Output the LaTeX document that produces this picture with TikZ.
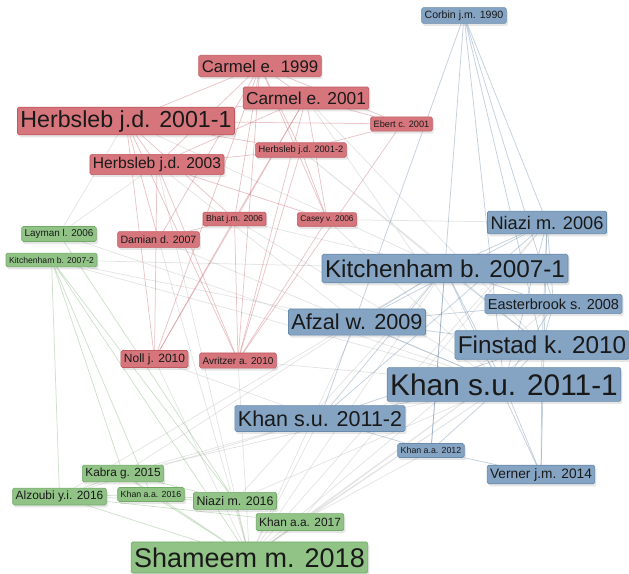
\documentclass[tikz,border=0pt]{standalone}
\usepackage{fontspec}
\setmainfont{Liberation Sans}
\usetikzlibrary{shadows,backgrounds}

\definecolor{redF}{RGB}{214,118,124}
\definecolor{redD}{RGB}{192,88,96}
\definecolor{blueF}{RGB}{133,164,195}
\definecolor{blueD}{RGB}{104,138,172}
\definecolor{greenF}{RGB}{145,195,135}
\definecolor{greenD}{RGB}{114,170,104}

\begin{document}
\begin{tikzpicture}[
  x=1pt, y=-1pt,
  box/.style={draw, rounded corners=1.5pt, line width=0.6pt, text=black!90,
    inner xsep=3pt, inner ysep=0pt,
    drop shadow={shadow xshift=1.5pt, shadow yshift=-2.5pt, opacity=0.2}},
  fs/.style={font=\fontsize{#1}{#1}\selectfont, minimum height={0.94*#1pt+5.7pt}},
  redbox/.style={box, fill=redF, draw=redD},
  bluebox/.style={box, fill=blueF, draw=blueD},
  greenbox/.style={box, fill=greenF, draw=greenD},
  redE/.style={draw=redD, draw opacity=0.35, line width=0.75pt},
  blueE/.style={draw=blueD, draw opacity=0.4, line width=0.75pt},
  greenE/.style={draw=greenD, draw opacity=0.35, line width=0.75pt},
  crossE/.style={draw=black!30, draw opacity=0.35, line width=0.75pt}
]
\useasboundingbox (0,0) rectangle (629,573);

\node[bluebox, fs=10.6] (corbin90) at (464,15.5) {Corbin j.m. 1990};

\node[redbox, fs=16.8] (carmel99) at (260,66) {Carmel e. 1999};
\node[redbox, fs=17.3] (carmel01) at (306,98) {Carmel e. 2001};
\node[redbox, fs=23.2] (herbsleb01a) at (126,121) {Herbsleb j.d. 2001-1};
\node[redbox, fs=9.2] (ebert01) at (401.5,124) {Ebert c. 2001};
\node[redbox, fs=9.3] (herbsleb01b) at (301,150) {Herbsleb j.d. 2001-2};
\node[redbox, fs=15.6] (herbsleb03) at (157,164.5) {Herbsleb j.d. 2003};
\node[redbox, fs=8.7] (bhat06) at (234.5,219) {Bhat j.m. 2006};
\node[redbox, fs=8.3] (casey06) at (327,219.5) {Casey v. 2006};
\node[redbox, fs=10.6] (damian07) at (158.5,239.5) {Damian d. 2007};
\node[redbox, fs=12] (noll10) at (154.5,359) {Noll j. 2010};
\node[redbox, fs=10] (avritzer10) at (238,360.5) {Avritzer a. 2010};

\node[greenbox, fs=9.9] (layman06) at (59,234) {Layman l. 2006};
\node[greenbox, fs=8.6] (kitch07b) at (51.5,260) {Kitchenham b. 2007-2};
\node[greenbox, fs=11.8] (kabra15) at (123,473.5) {Kabra g. 2015};
\node[greenbox, fs=11.9] (alzoubi16) at (59.5,496.5) {Alzoubi y.i. 2016};
\node[greenbox, fs=8.8] (khanaa16) at (151,494.5) {Khan a.a. 2016};
\node[greenbox, fs=12.4] (niazi16) at (235,501) {Niazi m. 2016};
\node[greenbox, fs=11.9] (khanaa17) at (300,522) {Khan a.a. 2017};
\node[greenbox, fs=27] (shameem18) at (249.5,557.5) {Shameem m. 2018};

\node[bluebox, fs=18.2] (niazi06) at (547,222.5) {Niazi m. 2006};
\node[bluebox, fs=24.3] (kitch07a) at (445,268.5) {Kitchenham b. 2007-1};
\node[bluebox, fs=14.5] (easter08) at (553.5,304) {Easterbrook s. 2008};
\node[bluebox, fs=21.7] (afzal09) at (357,322) {Afzal w. 2009};
\node[bluebox, fs=24.3] (finstad10) at (542,345) {Finstad k. 2010};
\node[bluebox, fs=29.8] (khansu11a) at (504,384.5) {Khan s.u. 2011-1};
\node[bluebox, fs=21.5] (khansu11b) at (320,418.5) {Khan s.u. 2011-2};
\node[bluebox, fs=8.8] (khanaa12) at (431,450.5) {Khan a.a. 2012};
\node[bluebox, fs=13.7] (verner14) at (541,474.5) {Verner j.m. 2014};

\begin{scope}[on background layer]
% links between clusters
\draw[crossE] (layman06) -- (herbsleb01a) (layman06) -- (herbsleb03) (layman06) -- (khansu11a);
\draw[crossE] (kitch07b) -- (kitch07a) (kitch07b) -- (afzal09) (kitch07b) -- (khansu11a);
\draw[crossE] (herbsleb01a) -- (kitch07a) (herbsleb03) -- (afzal09) (herbsleb03) -- (shameem18);
\draw[crossE] (damian07) -- (khansu11a) (damian07) -- (shameem18) (noll10) -- (shameem18) (noll10) -- (khansu11b);
\draw[crossE] (bhat06) -- (kitch07a) (bhat06) -- (khansu11a) (casey06) -- (khansu11a) (casey06) -- (niazi06);
\draw[crossE] (carmel01) -- (finstad10) (carmel01) -- (khansu11a) (herbsleb01b) -- (finstad10) (herbsleb01b) -- (kitch07a);
\draw[crossE] (avritzer10) -- (khansu11a) (avritzer10) -- (shameem18);
\draw[crossE] (afzal09) -- (kabra15) (afzal09) -- (shameem18) (kitch07a) -- (shameem18) (kitch07a) -- (niazi16) (kitch07a) -- (alzoubi16);
\draw[crossE] (niazi06) -- (shameem18) (niazi06) -- (khanaa17) (finstad10) -- (shameem18) (finstad10) -- (khanaa17);
\draw[crossE] (khansu11a) -- (shameem18) (khansu11a) -- (khanaa17) (khansu11a) -- (niazi16) (khansu11a) -- (kabra15);
\draw[crossE] (easter08) -- (shameem18) (khansu11b) -- (shameem18) (khansu11b) -- (kabra15) (khansu11b) -- (alzoubi16) (khanaa12) -- (khanaa17);

% red cluster
\draw[redE] (carmel99) -- (herbsleb01a) (carmel99) -- (carmel01) (carmel99) -- (ebert01) (carmel99) -- (herbsleb01b) (carmel99) -- (herbsleb03);
\draw[redE] (carmel99) -- (bhat06) (carmel99) -- (damian07) (carmel99) -- (noll10) (carmel99) -- (avritzer10) (carmel99) -- (casey06);
\draw[redE] (carmel01) -- (herbsleb01a) (carmel01) -- (ebert01) (carmel01) -- (herbsleb03) (carmel01) -- (bhat06);
\draw[redE] (carmel01) -- (noll10) (carmel01) -- (avritzer10) (carmel01) -- (casey06);
\draw[redE] (herbsleb01a) -- (ebert01) (herbsleb01a) -- (herbsleb01b) (herbsleb01a) -- (herbsleb03) (herbsleb01a) -- (damian07);
\draw[redE] (herbsleb01a) -- (noll10) (herbsleb01a) -- (avritzer10) (herbsleb01a) -- (bhat06);
\draw[redE] (herbsleb03) -- (herbsleb01b) (herbsleb03) -- (casey06) (herbsleb03) -- (avritzer10) (herbsleb03) -- (noll10);
\draw[redE] (herbsleb01b) -- (ebert01) (herbsleb01b) -- (avritzer10) (herbsleb01b) -- (casey06) (ebert01) -- (avritzer10);
\draw[redE] (bhat06) -- (damian07) (bhat06) -- (noll10) (bhat06) -- (avritzer10) (casey06) -- (avritzer10);

% blue cluster
\draw[blueE] (corbin90) -- (khansu11b) (corbin90) -- (khanaa12) (corbin90) -- (khansu11a) (corbin90) -- (finstad10) (corbin90) -- (easter08) (corbin90) -- (niazi06);
\draw[blueE] (niazi06) -- (kitch07a) (niazi06) -- (easter08) (niazi06) -- (finstad10) (niazi06) -- (khansu11a);
\draw[blueE] (niazi06) -- (afzal09) (niazi06) -- (khansu11b) (niazi06) -- (verner14);
\draw[blueE] (kitch07a) -- (afzal09) (kitch07a) -- (finstad10) (kitch07a) -- (khansu11a) (kitch07a) -- (khansu11b);
\draw[blueE] (kitch07a) -- (easter08) (kitch07a) -- (verner14) (kitch07a) -- (khanaa12);
\draw[blueE] (afzal09) -- (finstad10) (afzal09) -- (khansu11a) (afzal09) -- (easter08) (easter08) -- (khansu11a) (easter08) -- (finstad10);
\draw[blueE] (finstad10) -- (khansu11a) (finstad10) -- (verner14) (khansu11a) -- (khansu11b) (khansu11a) -- (khanaa12) (khansu11a) -- (verner14);
\draw[blueE] (khanaa12) -- (verner14) (khansu11b) -- (khanaa12) (khansu11b) -- (finstad10);

% green cluster
\draw[greenE] (kitch07b) -- (alzoubi16) (kitch07b) -- (kabra15) (kitch07b) -- (khanaa16) (kitch07b) -- (niazi16) (kitch07b) -- (shameem18);
\draw[greenE] (layman06) -- (niazi16);
\draw[greenE] (shameem18) -- (alzoubi16) (shameem18) -- (kabra15) (shameem18) -- (khanaa16) (shameem18) -- (niazi16) (shameem18) -- (khanaa17);
\draw[greenE] (alzoubi16) -- (kabra15) (alzoubi16) -- (khanaa16) (alzoubi16) -- (niazi16) (alzoubi16) -- (khanaa17);
\draw[greenE] (kabra15) -- (niazi16) (kabra15) -- (khanaa16) (khanaa16) -- (niazi16);
\end{scope}
\end{tikzpicture}
\end{document}
